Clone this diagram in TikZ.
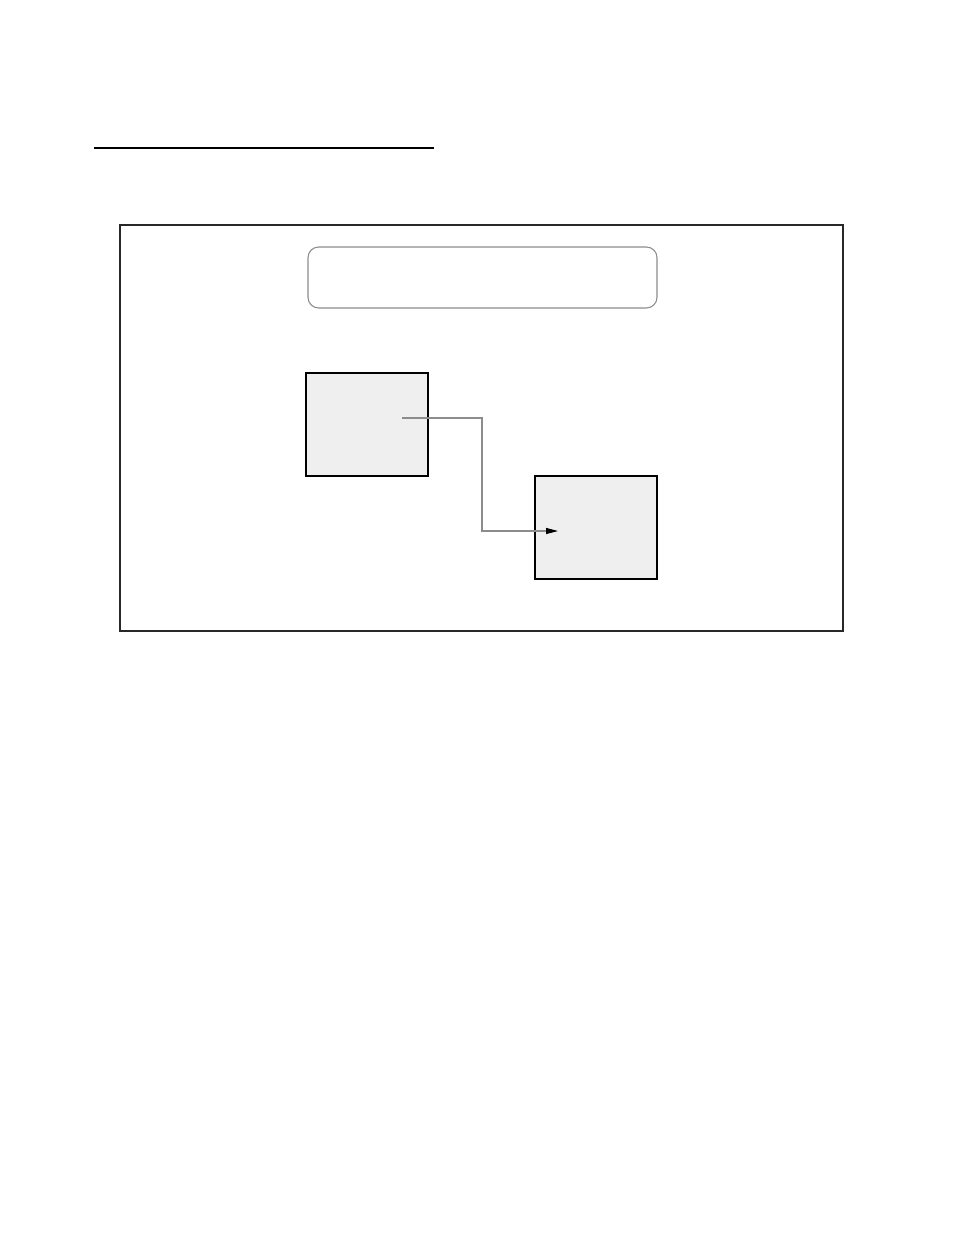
\documentclass[tikz,border=0pt]{standalone}
\usepackage{tikz}
\usetikzlibrary{arrows.meta}
\definecolor{boxgray}{RGB}{239,239,239}
\definecolor{linegray}{RGB}{140,140,140}

\begin{document}
\begin{tikzpicture}[x=0.75pt,y=0.75pt,yscale=-1,xscale=1,
    blockbox/.style={draw=black,line width=0.8pt,fill=boxgray,minimum width=91.5pt,minimum height=77.25pt,inner sep=0pt},
    headbox/.style={draw=linegray,line width=0.8pt,rounded corners=8pt,minimum width=261.75pt,minimum height=45.75pt,inner sep=0pt}]
  \useasboundingbox (0,0) rectangle (954,1235);
  %Straight Lines
  \draw[line width=1pt] (94,148) -- (434,148) ;
  %Shape: Rectangle
  \draw[line width=1.1pt,draw={rgb, 255:red, 40; green, 40; blue, 40 }] (120,225) rectangle (843,631) ;
  %Rounded Rect
  \node[headbox] (head) at (482.5,277.5) {};
  %Shape: Square
  \node[blockbox] (boxa) at (367,424.5) {};
  \node[blockbox] (boxb) at (596,527.5) {};
  \coordinate (src) at (402,418);
  \coordinate (bend) at (482,475);
  \coordinate (dst) at (558,531);
  %Connector
  \draw[linegray,line width=0.8pt,-{Triangle[length=9pt,width=4.5pt,color=black]}] (src) -| (bend) |- (dst) ;
\end{tikzpicture}
\end{document}
